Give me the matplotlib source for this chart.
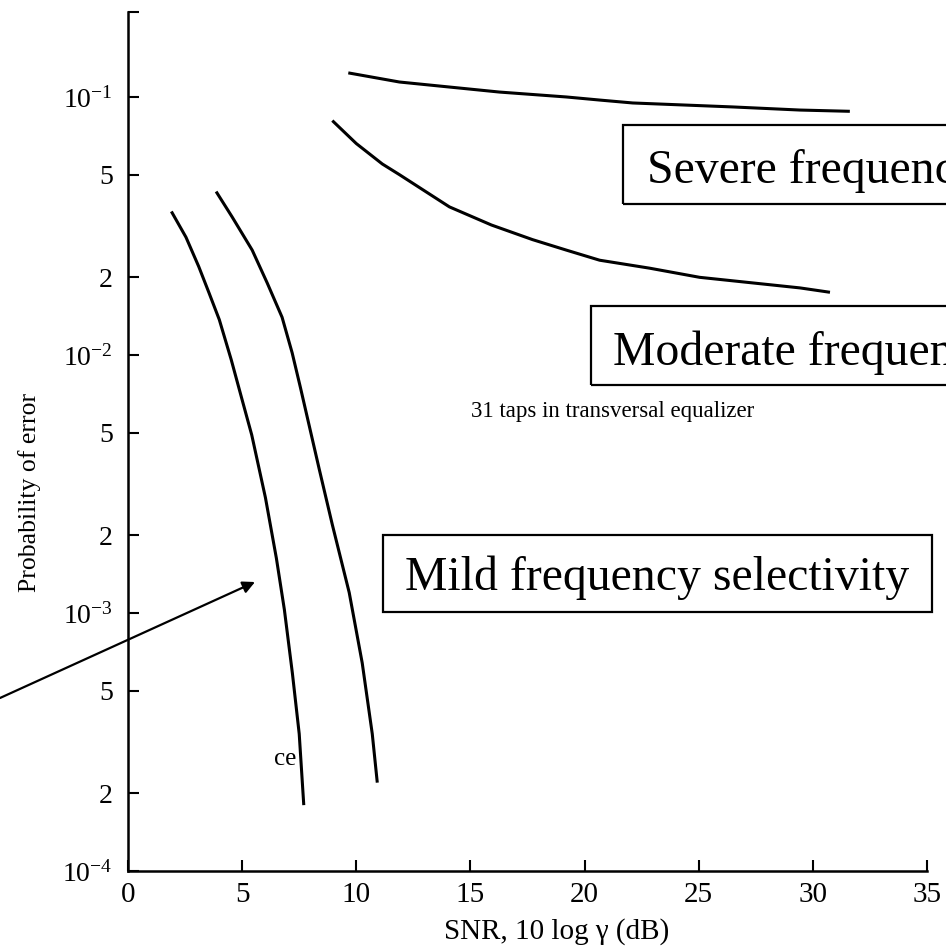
import matplotlib
matplotlib.use("Agg")
import matplotlib.pyplot as plt
from matplotlib.patches import Rectangle

# values
snr_ideal = [1.9, 2.54, 3.1, 3.55, 4.0, 4.52, 5.0, 5.42, 6.02, 6.5, 6.85, 7.2, 7.5, 7.7]
pe_ideal = [3.6e-2, 2.86e-2, 2.2e-2, 1.74e-2, 1.37e-2, 9.6e-3, 6.7e-3, 4.9e-3,
            2.8e-3, 1.63e-3, 1.03e-3, 5.85e-4, 3.4e-4, 1.8e-4]

snr_mild = [3.86, 4.56, 5.44, 6.1, 6.75, 7.19, 7.55, 8.38, 8.95, 9.69, 10.26, 10.7, 10.92]
pe_mild = [4.3e-2, 3.43e-2, 2.55e-2, 1.9e-2, 1.4e-2, 1.02e-2, 7.5e-3, 3.6e-3,
           2.2e-3, 1.2e-3, 6.4e-4, 3.4e-4, 2.2e-4]

snr_moderate = [8.95, 10.0, 11.14, 11.89, 14.08, 15.92, 17.72, 19.2, 20.66,
                22.85, 25.04, 29.43, 30.75]
pe_moderate = [8.1e-2, 6.6e-2, 5.5e-2, 5.0e-2, 3.75e-2, 3.19e-2, 2.8e-2, 2.55e-2,
               2.33e-2, 2.17e-2, 2.0e-2, 1.82e-2, 1.75e-2]

snr_severe = [9.65, 11.89, 16.27, 19.21, 20.66, 22.11, 26.49, 29.43, 31.62]
pe_severe = [0.124, 0.1143, 0.1045, 0.100, 0.0973, 0.0948, 0.0915, 0.089, 0.088]

x_ticks = [0, 5, 10, 15, 20, 25, 30, 35]
y_ticks = [1e-4, 2e-4, 5e-4, 1e-3, 2e-3, 5e-3, 1e-2, 2e-2, 5e-2, 1e-1]
y_tick_labels = [r"$10^{-4}$", "2", "5", r"$10^{-3}$", "2", "5",
                 r"$10^{-2}$", "2", "5", r"$10^{-1}$"]
y_top = 0.2135

plt.rcParams['font.family'] = ['Liberation Serif', 'DejaVu Serif']
plt.rcParams['mathtext.fontset'] = 'custom'
plt.rcParams['mathtext.rm'] = 'Liberation Serif'
plt.rcParams['mathtext.it'] = 'Liberation Serif:italic'

W, H = 946, 949
fig = plt.figure(figsize=(W / 100, H / 100), dpi=100)
ax = fig.add_axes([128 / W, 1 - 871 / H, (927 - 128) / W, (871 - 12) / H])

# the four curves
for x, y in [(snr_ideal, pe_ideal), (snr_mild, pe_mild),
             (snr_moderate, pe_moderate), (snr_severe, pe_severe)]:
    ax.plot(x, y, color='black', lw=2.2, solid_capstyle='butt',
            solid_joinstyle='round')

ax.set_yscale('log')
ax.set_xlim(0, 35)
ax.set_ylim(1e-4, y_top)
ax.set_xticks(x_ticks)
ax.set_xticklabels([str(t) for t in x_ticks])
ax.set_yticks(y_ticks + [y_top])
ax.set_yticklabels(y_tick_labels + [""])
ax.yaxis.set_minor_locator(matplotlib.ticker.NullLocator())

ax.spines['top'].set_visible(False)
ax.spines['right'].set_visible(False)
ax.spines['left'].set_linewidth(1.8)
ax.spines['bottom'].set_linewidth(1.8)
ax.tick_params(axis='x', direction='in', length=8, width=1.5, labelsize=21, pad=8)
ax.tick_params(axis='y', direction='in', length=8, width=1.5, labelsize=20, pad=11)

# axis titles
fig.text(557 / W, 1 - 932 / H, "SNR, 10 log γ (dB)", fontsize=21,
         ha='center', va='center')
fig.text(30 / W, 1 - 492 / H, "Probability of error", fontsize=18.5,
         rotation=90, ha='center', va='center')

# boxed labels
boxes = [
    ("Severe frequency selectivity", 647, 183, 623, 125, 1010, 204),
    ("Moderate frequency selectivity", 613, 365, 591, 306, 1010, 385),
    ("Mild frequency selectivity", 405, 590, 383, 535, 932, 612),
]
for label, tx, ty, x0, y0, x1, y1 in boxes:
    fig.text(tx / W, 1 - ty / H, label, fontsize=34.4, ha='left', va='baseline')
    fig.add_artist(Rectangle((x0 / W, 1 - y1 / H), (x1 - x0) / W, (y1 - y0) / H,
                             transform=fig.transFigure, fill=False,
                             lw=1.6, edgecolor='black'))

fig.text(471 / W, 1 - 417 / H, "31 taps in transversal equalizer", fontsize=16.5,
         ha='left', va='baseline')
fig.text(274 / W, 1 - 765 / H, "ce", fontsize=18, ha='left', va='baseline')

# arrow coming in from the left edge
ax.annotate('', xy=(255 / W, 1 - 582 / H), xytext=(0, 1 - 698 / H),
            xycoords='figure fraction', textcoords='figure fraction',
            arrowprops=dict(arrowstyle='-|>', color='black', lw=1.6,
                            mutation_scale=18, shrinkA=0, shrinkB=0))

fig.savefig('out.png', dpi=100)
